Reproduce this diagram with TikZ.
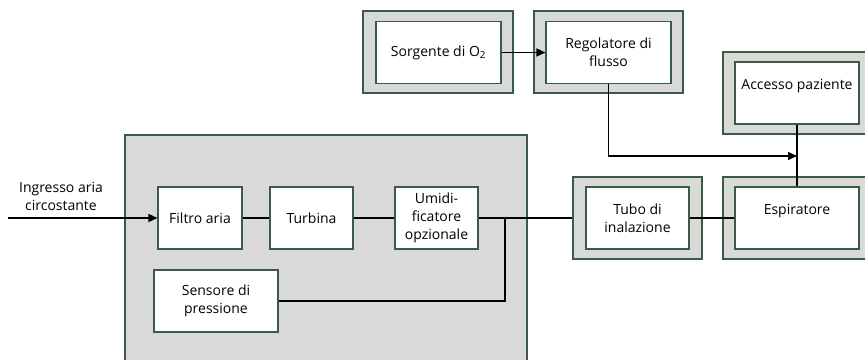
\documentclass[tikz,border=0pt]{standalone}
\usepackage{fontspec}
\setmainfont{Open Sans}
\usetikzlibrary{arrows.meta}
\definecolor{boxline}{HTML}{3A5C44}
\definecolor{panelgray}{HTML}{D9D9D9}

\begin{document}
\begin{tikzpicture}[x=1pt,y=-1pt,>={Triangle[length=9pt,width=8pt]},
  font=\fontsize{14}{18}\selectfont,
  panel/.style={fill=panelgray,draw=boxline,line width=1.1pt},
  frame/.style={panel,minimum width=#1,minimum height=82pt,inner sep=0pt},
  block/.style={fill=white,draw=boxline,line width=1.1pt,align=center,
    inner sep=0pt,minimum height=62pt,minimum width=#1},
  pipe/.style={line width=1.4pt}]
\useasboundingbox (0,0) rectangle (865,359);
\clip (0,0) rectangle (865,359);

% ventilator casing
\draw[panel] (125,135) rectangle (527,372);
\node[block=84pt] (filtro) at (200,218) {Filtro aria};
\node[block=83pt] (turbina) at (311.5,218) {Turbina};
\node[block=83pt] (umid) at (436.5,218) {Umidi-\\ficatore\\opzionale};
\node[block=124pt] (sensore) at (216,301) {Sensore di\\pressione};

% patient circuit
\node[frame=129pt] (tuboF) at (637.5,218) {};
\node[block=103pt] (tubo) at (637.5,218) {Tubo di\\inalazione};
\node[frame=148pt] (espirF) at (797,218) {};
\node[block=124pt] (espir) at (797,218) {Espiratore\\\mbox{}};
\node[frame=148pt] (accF) at (797,93) {};
\node[block=124pt] (acc) at (797,93) {Accesso paziente\\\mbox{}};

% oxygen supply
\node[frame=150pt] (sorgF) at (438,52) {};
\node[block=125pt] (sorg) at (438.5,52.5) {Sorgente di O\textsubscript{2}};
\node[frame=149pt] (regF) at (608.5,52) {};
\node[block=125pt] (reg) at (608.5,52.5) {Regolatore di\\flusso};

\coordinate (aria) at (8,218);
\coordinate (nodo) at (505,218);
\coordinate (mix) at (797,156);
\node[align=center] (arialbl) at (61,196) {Ingresso aria\\circostante};

\draw[pipe,->] (aria) -- (filtro);
\draw[pipe] (filtro) -- (turbina);
\draw[pipe] (turbina) -- (umid);
\draw[pipe] (umid) -- (tuboF);
\draw[pipe] (sensore) -| (nodo);
\draw[pipe] (tubo) -- (espir);
\draw[pipe,->] (sorg) -- (reg);
\draw[pipe,->] (reg) |- (mix);
\draw[pipe] (espir) -- (acc);
\end{tikzpicture}
\end{document}
